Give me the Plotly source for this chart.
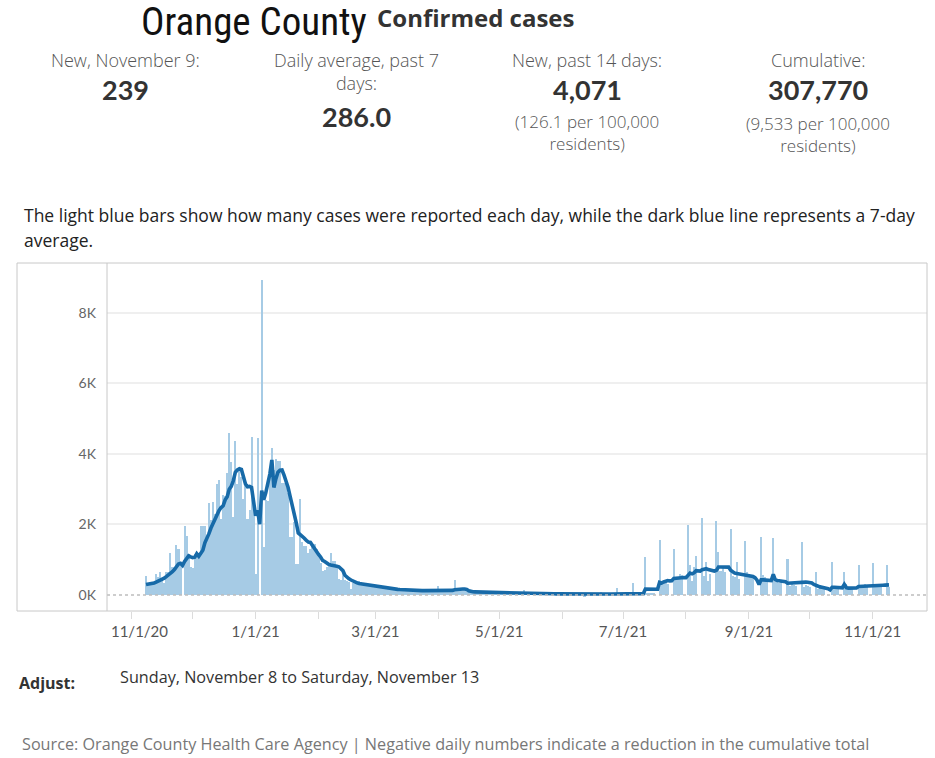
import pandas as pd
import plotly.graph_objects as go

# ---------------- data ----------------
start_date = "2020-11-08"

new_cases = [
    530, 310, 320, 300, 330, 600, 520,
    640, 410, 350, 640, 640, 1190, 790,
    790, 1410, 1300, 885, 0, 1950, 1670,
    1170, 790, 760, 1170, 1170, 1200, 1950,
    1950, 1950, 1550, 2620, 2120, 2650, 2310,
    3140, 3270, 2170, 2840, 2800, 3460, 4600,
    3760, 2200, 4380, 3150, 3530, 3340, 2720,
    3150, 2150, 2410, 4490, 2670, 590, 4450,
    0, 8950, 1365, 2700, 2670, 3530, 4170,
    3550, 3850, 3800, 3800, 3190, 3190, 3150,
    2900, 1650, 1650, 2085, 890, 890, 2710,
    1500, 1380, 1380, 1200, 1300, 1450, 1450,
    1300, 1200, 900, 690, 700, 800, 875,
    1180, 960, 960, 800, 460, 430, 700,
    430, 410, 365, 180, 335, 410, 400,
    400, 315, 300, 320, 290, 300, 270,
    280, 240, 250, 215, 235, 205, 200,
    190, 200, 175, 185, 170, 160, 158,
    150, 155, 140, 145, 138, 130, 128,
    125, 122, 130, 118, 126, 120, 124,
    122, 128, 115, 125, 255, 120, 118,
    125, 130, 120, 128, 135, 425, 160,
    170, 165, 168, 172, 160, 110, 95,
    90, 85, 92, 80, 78, 82, 75,
    72, 70, 68, 74, 65, 60, 58,
    62, 55, 58, 52, 55, 50, 54,
    48, 50, 52, 46, 140, 48, 45,
    47, 42, 44, 40, 45, 38, 40,
    36, 38, 35, 34, 37, 32, 33,
    30, 32, 29, 31, 28, 30, 27,
    28, 26, 30, 25, 27, 24, -60,
    28, 25, 27, 30, 26, 28, 32,
    75, 30, 28, 33, 35, 32, 36,
    34, 210, 38, 40, 42, 45, 40,
    44, 42, 350, 45, 40, 38, 42,
    40, 1075, 60, 55, 50, 45, 0,
    0, 1550, 400, 350, 380, 300, 0,
    0, 1310, 505, 520, 600, 560, 0,
    0, 1980, 865, 400, 790, 1095, 0,
    0, 2180, 550, 950, 410, 600, 0,
    0, 2100, 1220, 695, 790, 650, 0,
    0, 1875, 550, 505, 950, 460, 0,
    0, 1530, 650, 550, 505, 480, 0,
    0, 0, 1650, 555, 500, 360, 0,
    0, 1620, 360, 380, 340, 360, 0,
    0, 1010, 265, 300, 280, 250, 0,
    0, 1500, 240, 270, 250, 230, 0,
    0, 665, 170, 190, 200, 160, 0,
    0, 0, 950, 200, 210, 190, 0,
    0, 665, 300, 200, 210, 190, 0,
    0, 840, 280, 290, 300, 290, 0,
    0, 905, 284, 300, 300, 298, 0,
    0, 865, 239,
]

avg_7day = [
    295, 300, 305, 314, 340, 365, 390,
    415, 440, 480, 520, 560, 600, 660,
    720, 800, 880, 900, 840, 950, 1030,
    1110, 1080, 1057, 1070, 1170, 1100, 1180,
    1270, 1480, 1600, 1740, 1900, 2030, 2150,
    2300, 2400, 2480, 2530, 2700, 2790, 3000,
    3080, 3240, 3480, 3550, 3580, 3560, 3360,
    3150, 3070, 3080, 3050, 2580, 2250, 2400,
    2010, 2960, 2700, 2900, 3150, 3430, 3830,
    3050, 3300, 3480, 3540, 3545, 3400, 3250,
    3050, 2800, 2580, 2300, 2050, 1760, 1710,
    1690, 1610, 1545, 1500, 1490, 1400, 1300,
    1240, 1150, 1080, 980, 950, 900, 870,
    850, 830, 820, 815, 800, 760, 690,
    560, 500, 460, 425, 390, 360, 345,
    325, 315, 310, 305, 300, 290, 275,
    260, 250, 240, 228, 220, 212, 205,
    195, 185, 180, 175, 168, 160, 155,
    150, 145, 140, 136, 132, 130, 128,
    126, 125, 124, 124, 123, 123, 123,
    123, 123, 124, 124, 124, 123, 123,
    123, 124, 123, 124, 130, 150, 160,
    168, 170, 170, 168, 160, 120, 95,
    90, 88, 86, 84, 82, 80, 78,
    76, 74, 72, 70, 68, 65, 62,
    60, 58, 57, 55, 54, 53, 52,
    51, 50, 49, 48, 47, 47, 47,
    46, 45, 44, 43, 42, 41, 40,
    39, 38, 37, 36, 35, 34, 33,
    32, 31, 30, 30, 29, 29, 28,
    28, 27, 27, 26, 26, 25, 22,
    21, 21, 20, 21, 22, 23, 25,
    28, 30, 30, 29, 29, 30, 30,
    31, 33, 35, 36, 37, 38, 40,
    41, 42, 45, 44, 43, 42, 42,
    40, 170, 172, 172, 172, 170, 168,
    165, 360, 340, 370, 400, 410, 400,
    405, 470, 480, 490, 500, 500, 495,
    490, 560, 620, 600, 630, 690, 680,
    680, 720, 730, 745, 720, 700, 690,
    680, 700, 795, 795, 795, 790, 790,
    790, 700, 650, 620, 610, 600, 600,
    590, 575, 560, 555, 540, 525, 490,
    420, 300, 430, 430, 420, 410, 410,
    410, 585, 430, 410, 400, 390, 385,
    380, 335, 340, 345, 350, 360, 365,
    365, 365, 365, 365, 360, 355, 340,
    300, 270, 250, 230, 220, 210, 200,
    180, 145, 220, 220, 215, 205, 200,
    205, 300, 210, 195, 195, 195, 198,
    200, 240, 245, 250, 255, 260, 260,
    265, 270, 270, 270, 272, 275, 278,
    280, 284, 286,
]

tick_dates = ["2020-11-01", "2020-12-01", "2021-01-01", "2021-02-01", "2021-03-01",
              "2021-04-01", "2021-05-01", "2021-06-01", "2021-07-01", "2021-08-01",
              "2021-09-01", "2021-10-01", "2021-11-01"]
tick_labels = ["\u00a0\u00a0\u00a0\u00a011/1/20", "", "1/1/21", "", "3/1/21", "", "5/1/21", "",
               "7/1/21", "", "9/1/21", "", "11/1/21"]

y_tick_vals = [0, 2000, 4000, 6000, 8000]
y_tick_text = ["0K", "2K", "4K", "6K", "8K"]

stat_labels = ["New, November 9:", "Daily average, past 7<br>days:", "New, past 14 days:", "Cumulative:"]
stat_values = ["239", "286.0", "4,071", "307,770"]
stat_notes = ["", "", "(126.1 per 100,000<br>residents)", "(9,533 per 100,000<br>residents)"]

dates = pd.date_range(start_date, periods=len(new_cases), freq="D")

# ---------------- geometry ----------------
W, H = 935, 758
L, R, T, B = 107, 927, 263, 611


def px(x):
    return (x - L) / (R - L)


def py(y):
    return (B - y) / (B - T)


BAR_COLOR = "#a6cbe5"
LINE_COLOR = "#176aa8"
FONT = "'Open Sans', Lato, sans-serif"
NUMFONT = "Lato, 'Open Sans', sans-serif"

fig = go.Figure()
fig.add_trace(go.Bar(x=dates, y=new_cases, marker=dict(color=BAR_COLOR, line=dict(width=0)),
                     width=86400000, hoverinfo="x+y", showlegend=False))
fig.add_trace(go.Scatter(x=dates, y=avg_7day, mode="lines",
                         line=dict(color=LINE_COLOR, width=3.6), showlegend=False))

start = pd.Timestamp(start_date)
x0 = start - pd.Timedelta(days=(146 - L) / 2.03)
x1 = start + pd.Timedelta(days=(R - 146) / 2.03)

fig.update_xaxes(range=[x0, x1], tickvals=tick_dates, ticktext=tick_labels,
                 ticks="outside", ticklen=7, tickcolor="#dcdcdc", tickwidth=1,
                 showgrid=False, zeroline=False, showline=False,
                 tickfont=dict(family=NUMFONT, size=15, color="#555555"))
fig.update_yaxes(range=[-454, 9418], tickvals=y_tick_vals, ticktext=y_tick_text,
                 showgrid=False, zeroline=False, showline=False, ticks="",
                 ticklabelstandoff=10,
                 tickfont=dict(family=NUMFONT, size=14, color="#666666"),
                 minor=dict(tickvals=[2000, 4000, 6000, 8000], showgrid=True,
                            gridcolor="#efefef", gridwidth=1.5, ticks=""))

shapes = [
    dict(type="line", xref="paper", yref="y", x0=0, x1=1, y0=0, y1=0,
         line=dict(color="#bdbdbd", width=1.5, dash="dot"), layer="above"),
    dict(type="rect", xref="paper", yref="paper", x0=px(17), x1=1, y0=0, y1=1,
         line=dict(color="#c8c8c8", width=1)),
    dict(type="line", xref="paper", yref="paper", x0=0, x1=0, y0=0, y1=1,
         line=dict(color="#c8c8c8", width=1)),
]

ann = []


def text(x, y, s, size, color="#333333", anchor="center", family=FONT, weight=None):
    f = dict(family=family, size=size, color=color)
    if weight:
        f["weight"] = weight
    ann.append(dict(x=px(x), y=py(y), xref="paper", yref="paper", text=s, showarrow=False,
                    xanchor=anchor, yanchor="middle", align=anchor if anchor != "center" else "center",
                    font=f))


text(254, 22, "Orange County", 39, "#111111",
     family="'Liberation Sans Narrow', 'Arial Narrow', 'Roboto Condensed', sans-serif")
text(375, 18, "Confirmed cases", 24, "#333333", anchor="left", weight=700)

cols = [125, 356, 587, 818]
text(cols[0], 60, stat_labels[0], 18, "#555555", weight=300)
text(cols[0], 90, stat_values[0], 27, "#333333", family=NUMFONT, weight=700)
text(cols[1], 72, stat_labels[1], 18, "#555555", weight=300)
text(cols[1], 116, stat_values[1], 27, "#333333", family=NUMFONT, weight=700)
text(cols[2], 60, stat_labels[2], 18, "#555555", weight=300)
text(cols[2], 90, stat_values[2], 27, "#333333", family=NUMFONT, weight=700)
text(cols[2], 133, stat_notes[2], 17, "#555555", weight=300)
text(cols[3], 60, stat_labels[3], 18, "#555555", weight=300)
text(cols[3], 90, stat_values[3], 27, "#333333", family=NUMFONT, weight=700)
text(cols[3], 134, stat_notes[3], 17, "#555555", weight=300)

text(22, 215, "The light blue bars show how many cases were reported each day, while the dark blue line represents a 7-day",
     17.5, "#222222", anchor="left")
text(22, 240, "average.", 17.5, "#222222", anchor="left")

text(17, 683, "Adjust:", 16, "#333333", anchor="left", weight=700)
text(118, 677, "Sunday, November 8 to Saturday, November 13", 16.2, "#333333", anchor="left")
text(20, 744, "Source: Orange County Health Care Agency | Negative daily numbers indicate a reduction in the cumulative total",
     16.2, "#777777", anchor="left")

fig.update_layout(width=W, height=H, margin=dict(l=L, r=W - R, t=T, b=H - B),
                  plot_bgcolor="white", paper_bgcolor="white", bargap=0,
                  shapes=shapes, annotations=ann, showlegend=False)

fig.write_html("out.html", config={"displayModeBar": False},
               post_script="document.body.style.margin='0';document.body.style.overflow='hidden';")
